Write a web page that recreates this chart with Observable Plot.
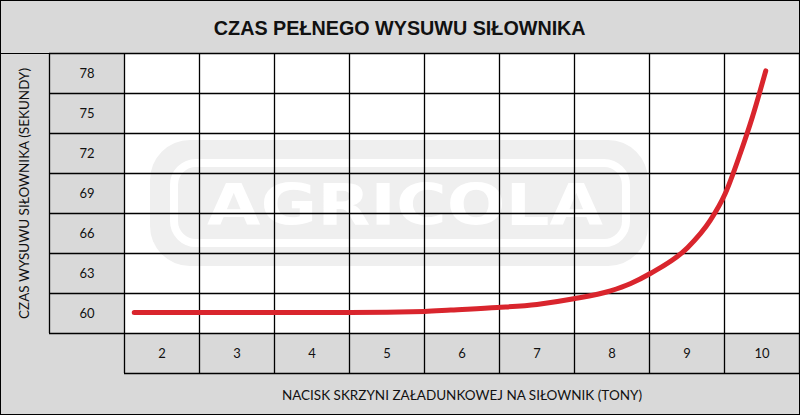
<!DOCTYPE html>
<html><head><meta charset="utf-8">
<script src="https://cdn.jsdelivr.net/npm/d3@7"></script>
<script src="https://cdn.jsdelivr.net/npm/@observablehq/plot@0.6"></script>
<style>
body{margin:0;background:#fff;}
#wrap{position:relative;width:800px;height:415px;background:#d9d9d9;overflow:hidden;}
#title{position:absolute;left:0;top:0;width:800px;height:54px;box-sizing:border-box;border-bottom:1px solid #000;
  display:flex;align-items:center;justify-content:center;padding-top:2px;}
#title span{font-family:"Liberation Sans",Arial,sans-serif;font-weight:bold;font-size:21px;color:#111;
  display:inline-block;transform:scaleX(0.94);white-space:nowrap;}
#chart{position:absolute;left:0;top:0;}
#border{position:absolute;left:0;top:0;width:800px;height:415px;box-sizing:border-box;border:1px solid #000;pointer-events:none;}
</style>
</head><body>
<div id="wrap"><div id="chart"></div><div id="title"><span id="titleText"></span></div><div id="border"></div></div>
<script>
const title = "CZAS PEŁNEGO WYSUWU SIŁOWNIKA";
const xTitle = "NACISK SKRZYNI ZAŁADUNKOWEJ NA SIŁOWNIK (TONY)";
const yTitle = "CZAS WYSUWU SIŁOWNIKA (SEKUNDY)";
const xTicks = [2, 3, 4, 5, 6, 7, 8, 9, 10];
const yTicks = [60, 63, 66, 69, 72, 75, 78];
const curveX = [1.63, 2.5, 3.5, 4.5, 5.5, 5.85, 6.47, 7.0, 7.49, 7.98, 8.25, 8.51, 9.01, 9.31, 9.51, 9.71, 9.87, 10.05];
const curveY = [60.08, 60.08, 60.08, 60.08, 60.15, 60.26, 60.45, 60.68, 61.1, 61.7, 62.25, 63.0, 64.95, 66.98, 69.0, 72.0, 74.7, 78.2];
const watermarkText = "AGRICOLA";

const curve = curveX.map((x, i) => ({x, y: curveY[i]}));
const xLines = [...xTicks.map(d => d - 0.5), xTicks[xTicks.length - 1] + 0.5];
const yLines = [...yTicks.map(d => d - 1.5), yTicks[yTicks.length - 1] + 1.5];
const xLo = xLines[0], xHi = xLines[xLines.length - 1];
const yLo = yLines[0], yHi = yLines[yLines.length - 1];
const labelColX = xTicks[0] - 1;          // column holding the y labels
const labelRowY = yTicks[0] - 3;          // row holding the x labels

document.getElementById("titleText").textContent = title;

function watermark(index, scales, values, dims) {
  const ns = "http://www.w3.org/2000/svg";
  const g = document.createElementNS(ns, "g");
  const L = dims.marginLeft, T = dims.marginTop;
  const mk = (tag, attrs) => { const e = document.createElementNS(ns, tag); for (const k in attrs) e.setAttribute(k, attrs[k]); g.appendChild(e); return e; };
  mk("rect", {x: L + 26, y: T + 87, width: 498, height: 126, rx: 40, fill: "#efefef"});
  mk("rect", {x: L + 50, y: T + 110, width: 452, height: 80, rx: 22, fill: "none", stroke: "#fff", "stroke-width": 8});
  const t = mk("text", {x: L + 83, y: T + 172, fill: "#fff", "text-anchor": "start", "font-family": "DejaVu Sans", "font-weight": "bold", "font-size": 57, textLength: 396, lengthAdjust: "spacingAndGlyphs"});
  t.textContent = watermarkText;
  return g;
}

const plot = Plot.plot({
  width: 800, height: 415,
  marginLeft: 124, marginRight: 1, marginTop: 53, marginBottom: 82,
  x: {domain: [xLo, xHi], axis: null},
  y: {domain: [yLo, yHi], axis: null},
  style: {background: "transparent", fontFamily: "Lato, sans-serif", color: "#111"},
  marks: [
    Plot.frame({fill: "#fff", stroke: null}),
    watermark,
    Plot.ruleX(xLines, {y1: labelRowY - 1.5, y2: yHi, stroke: "#000", strokeWidth: 1.3, strokeOpacity: 1}),
    Plot.ruleY(yLines, {x1: labelColX - 0.5, x2: xHi, stroke: "#000", strokeWidth: 1.3, strokeOpacity: 1}),
    Plot.ruleY([labelRowY - 1.5], {x1: xLo, x2: xHi, stroke: "#000", strokeWidth: 1.3}),
    Plot.ruleX([labelColX - 0.5], {y1: yLo, y2: yHi, stroke: "#000", strokeWidth: 1.3}),
    Plot.text(yTicks, {x: labelColX, y: d => d, text: d => String(d), fontSize: 13, fill: "#111"}),
    Plot.text(xTicks, {x: d => d, y: labelRowY, text: d => String(d), fontSize: 13, fill: "#111"}),
    Plot.text([xTitle], {frameAnchor: "bottom", dy: 62, lineAnchor: "middle", fontSize: 13.5, fill: "#111"}),
    Plot.text([yTitle], {frameAnchor: "left", dx: -100, rotate: -90, textAnchor: "middle", lineAnchor: "middle", fontSize: 13.5, fill: "#111"}),
    Plot.line(curve, {x: "x", y: "y", curve: "monotone-x", stroke: "#d9252d", strokeWidth: 5, strokeLinecap: "round", strokeLinejoin: "round"})
  ]
});
document.getElementById("chart").appendChild(plot);
</script>
</body></html>
